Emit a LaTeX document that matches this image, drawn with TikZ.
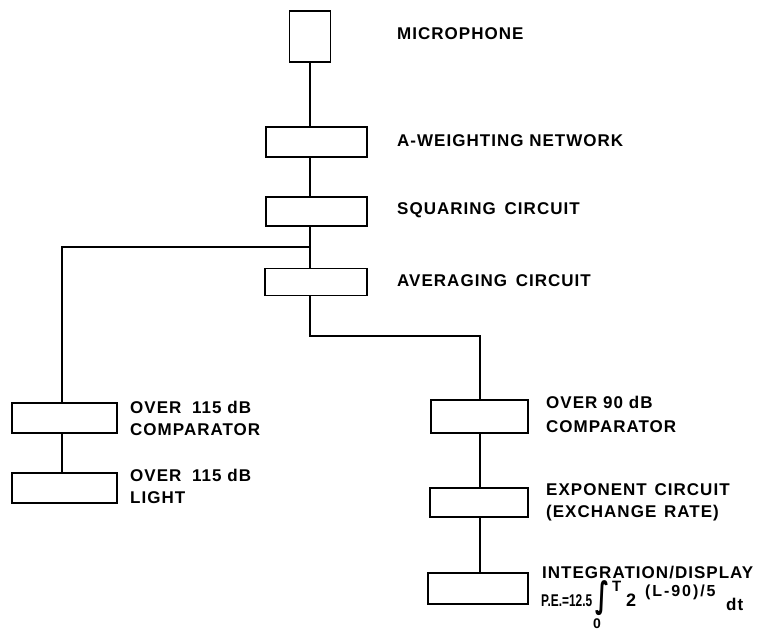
\documentclass[tikz,border=0pt]{standalone}
\usepackage{fontspec}
\usepackage{graphicx}
\newfontfamily\lbl[LetterSpace=6,BoldFont={Liberation Sans Bold}]{Liberation Sans}
\newfontfamily\lblx[LetterSpace=12]{Liberation Sans}
\newfontfamily\lblf[FakeStretch=0.7]{Liberation Sans}
\newfontfamily\intfont{DejaVu Sans}
\begin{document}
\begin{tikzpicture}[x=1pt,y=-1pt,
  blk/.style={draw,line width=1.8pt,inner sep=0pt},
  wire/.style={line width=1.8pt},
  lab/.style={anchor=west,align=left,inner sep=0pt,font=\fontsize{17}{22}\selectfont\lbl\bfseries},
  fml/.style={inner sep=0pt,anchor=base west,font=\fontsize{17}{18}\selectfont\lblf\bfseries}]
\useasboundingbox (0,0) rectangle (779,632);
% blocks
\node[blk,minimum width=41pt,minimum height=51pt] (mic) at (310,36.5) {};
\node[blk,minimum width=101pt,minimum height=30pt] (aw) at (316.5,142) {};
\node[blk,minimum width=101pt,minimum height=29pt] (sq) at (316.5,211.5) {};
\node[blk,minimum width=102pt,minimum height=27pt] (av) at (316,282) {};
\node[blk,minimum width=105pt,minimum height=30pt] (c115) at (64.5,418) {};
\node[blk,minimum width=105pt,minimum height=30pt] (l115) at (64.5,488) {};
\node[blk,minimum width=97pt,minimum height=33pt] (c90) at (479.5,416.5) {};
\node[blk,minimum width=98pt,minimum height=29pt] (ex) at (479,502.5) {};
\node[blk,minimum width=100pt,minimum height=31pt] (int) at (478,588.5) {};
% helper coordinates
\coordinate (lx) at (62,0);
\coordinate (rx) at (480,0);
\coordinate (j1) at (310,247);
\coordinate (j2) at (310,336);
% connectors
\draw[wire] (mic.south) -- (aw.north -| mic.south);
\draw[wire] (aw.south -| mic.south) -- (sq.north -| mic.south);
\draw[wire] (sq.south -| mic.south) -- (av.north -| mic.south);
\draw[wire] (j1) -| (c115.north -| lx);
\draw[wire] (c115.south -| lx) -- (l115.north -| lx);
\draw[wire] (av.south -| mic.south) -- (j2) -| (c90.north -| rx);
\draw[wire] (c90.south -| rx) -- (ex.north -| rx);
\draw[wire] (ex.south -| rx) -- (int.north -| rx);
% labels
\node[lab] (tmic) at (397,34) {MICROPHONE};
\node[lab] (taw) at (397,141) {A-WEIGHTING NETWORK};
\node[lab] (tsq) at (397,210) {SQUARING\hspace{3pt} CIRCUIT};
\node[lab] (tav) at (397,281) {AVERAGING\hspace{3pt} CIRCUIT};
\node[lab] (tc115) at (130,418) {OVER\hspace{5pt} 115 dB\\COMPARATOR};
\node[lab] (tl115) at (130,486) {OVER\hspace{5pt} 115 dB\\LIGHT};
\node[lab,font=\fontsize{17}{24}\selectfont\lbl\bfseries] (tc90) at (546,414.5) {OVER 90 dB\\COMPARATOR};
\node[lab] (tex) at (546,502) {EXPONENT\hspace{2pt} CIRCUIT\\(EXCHANGE\hspace{2pt} RATE)};
\node[lab] (tint) at (542,573) {INTEGRATION/DISPLAY};
% formula
\node[fml] (fpe) at (541,606) {P.E.=12.5};
\node[inner sep=0pt] (fint) at (602,598) {\resizebox*{14pt}{35pt}{\intfont\bfseries ∫}};
\node[fml,font=\fontsize{15}{16}\selectfont\lbl\bfseries] (fup) at (612,591) {T};
\node[fml,font=\fontsize{14}{16}\selectfont\lbl\bfseries] (flo) at (593,628) {0};
\node[fml,font=\fontsize{18}{18}\selectfont\lbl\bfseries] (ftwo) at (626,606) {2};
\node[fml,font=\fontsize{16}{18}\selectfont\lblx\bfseries] (fexp) at (645,596) {(L-90)/5};
\node[fml,font=\fontsize{17}{18}\selectfont\lbl\bfseries] (fdt) at (726,610) {dt};
\end{tikzpicture}
\end{document}
